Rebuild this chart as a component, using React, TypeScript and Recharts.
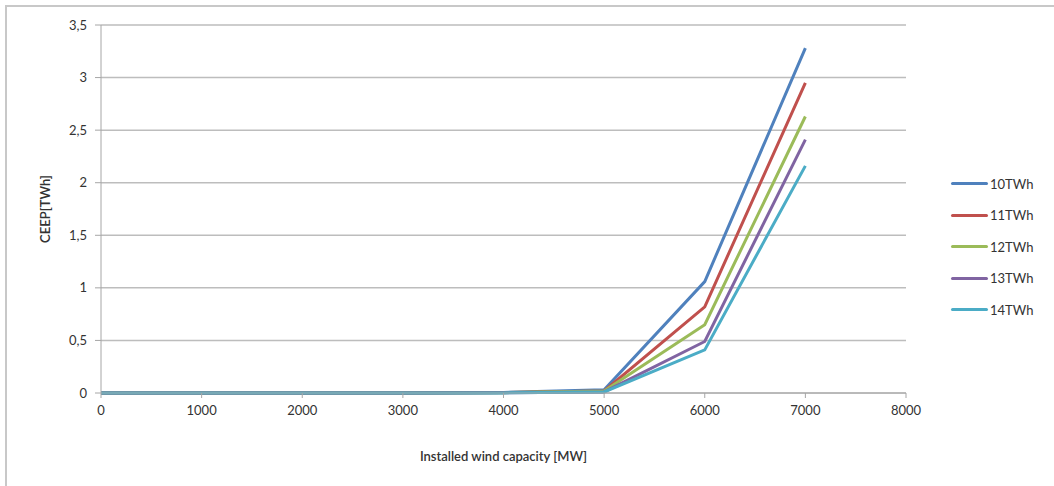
import { LineChart, Line, XAxis, YAxis, CartesianGrid } from "recharts";

const capacity = [0, 1000, 2000, 3000, 4000, 5000, 6000, 7000];
const twh10 = [0, 0, 0, 0, 0.005, 0.03, 1.06, 3.28];
const twh11 = [0, 0, 0, 0, 0.004, 0.02, 0.82, 2.95];
const twh12 = [0, 0, 0, 0, 0.003, 0.02, 0.65, 2.63];
const twh13 = [0, 0, 0, 0, 0.002, 0.01, 0.49, 2.41];
const twh14 = [0, 0, 0, 0, 0.001, 0.01, 0.41, 2.16];
const xTicks = [0, 1000, 2000, 3000, 4000, 5000, 6000, 7000, 8000];
const yTicks = [0, 0.5, 1, 1.5, 2, 2.5, 3, 3.5];

const SERIES = [
  { key: "s10", name: "10TWh", values: twh10, color: "#4F81BD" },
  { key: "s11", name: "11TWh", values: twh11, color: "#C0504D" },
  { key: "s12", name: "12TWh", values: twh12, color: "#9BBB59" },
  { key: "s13", name: "13TWh", values: twh13, color: "#8064A2" },
  { key: "s14", name: "14TWh", values: twh14, color: "#4BACC6" },
];

const data = capacity.map((c, i) => {
  const row: Record<string, number> = { x: c };
  SERIES.forEach((s) => (row[s.key] = s.values[i]));
  return row;
});

const font = "Lato, 'Open Sans', sans-serif";
const tickStyle = { fontSize: 13, fill: "#333", fontFamily: font };

// legend drawn as plain html next to the plot
function LegendBox() {
  return (
    <div style={{ position: "absolute", left: 951, top: 168, fontFamily: font, fontSize: 13, color: "#333" }}>
      {SERIES.map((s) => (
        <div key={s.key} style={{ display: "flex", alignItems: "center", height: 31.5 }}>
          <div style={{ width: 37, height: 3, background: s.color, borderRadius: 2, marginRight: 2 }} />
          <span>{s.name}</span>
        </div>
      ))}
    </div>
  );
}

export default function App() {
  return (
    <div style={{ position: "absolute", left: 0, top: 0, width: 1054, height: 486, background: "#fff" }}>
      <div style={{ position: "absolute", left: 5, top: 5, right: -10, bottom: -10, borderLeft: "2px solid #c8c8c8", borderTop: "2px solid #c8c8c8" }} />
      <LineChart width={1054} height={486} data={data} margin={{ top: 25, right: 148, left: 0, bottom: 20 }}>
        <CartesianGrid vertical={false} stroke="#bdbdbd" strokeWidth={1.5} />
        <XAxis
          dataKey="x"
          type="number"
          domain={[0, 8000]}
          ticks={xTicks}
          height={73}
          tick={tickStyle}
          tickSize={5}
          tickMargin={8}
          stroke="#a6a6a6"
          label={{ value: "Installed wind capacity  [MW]", position: "insideBottom", offset: 5, style: { fontSize: 13, fill: "#333", fontFamily: font, fontWeight: 600 } }}
        />
        <YAxis
          type="number"
          domain={[0, 3.5]}
          ticks={yTicks}
          width={101}
          tick={tickStyle}
          tickSize={6}
          tickMargin={8}
          stroke="#a6a6a6"
          tickFormatter={(v: number) => String(v).replace(".", ",")}
          label={{ value: "CEEP[TWh]", angle: -90, position: "insideLeft", offset: 45, style: { fontSize: 13, fill: "#333", fontFamily: font, fontWeight: 600, textAnchor: "middle" } }}
        />
        {SERIES.map((s) => (
          <Line
            key={s.key}
            dataKey={s.key}
            name={s.name}
            stroke={s.color}
            strokeWidth={3}
            dot={false}
            isAnimationActive={false}
          />
        ))}
      </LineChart>
      <LegendBox />
    </div>
  );
}
